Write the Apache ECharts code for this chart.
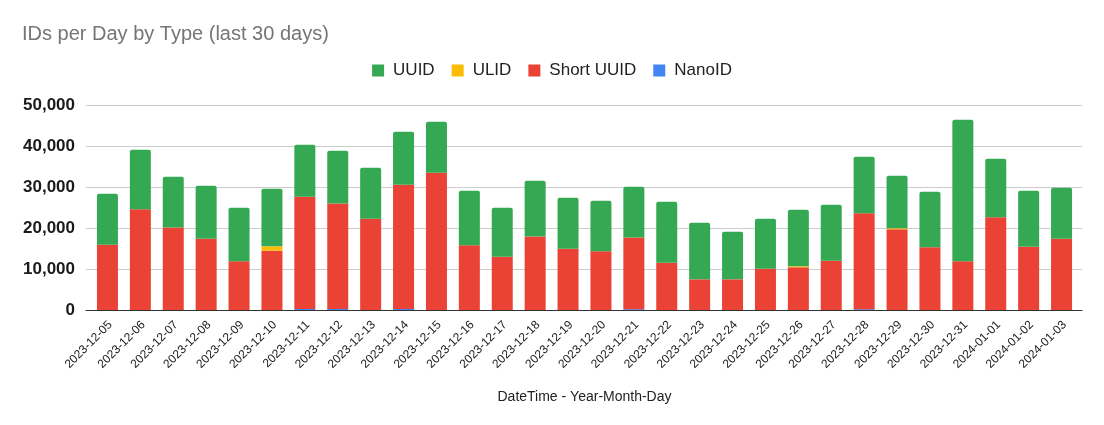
<!DOCTYPE html>
<html>
<head>
<meta charset="utf-8">
<script src="https://cdn.jsdelivr.net/npm/echarts@6/dist/echarts.min.js"></script>
<style>
  html, body { margin: 0; padding: 0; background: #fff; }
  #chart { width: 1104px; height: 425px; }
</style>
</head>
<body>
<div id="chart"></div>
<script>
const categories = [
  '2023-12-05','2023-12-06','2023-12-07','2023-12-08','2023-12-09','2023-12-10',
  '2023-12-11','2023-12-12','2023-12-13','2023-12-14','2023-12-15','2023-12-16',
  '2023-12-17','2023-12-18','2023-12-19','2023-12-20','2023-12-21','2023-12-22',
  '2023-12-23','2023-12-24','2023-12-25','2023-12-26','2023-12-27','2023-12-28',
  '2023-12-29','2023-12-30','2023-12-31','2024-01-01','2024-01-02','2024-01-03'
];
const nanoId = [0,0,0,0,0,0, 250,250,0,250,0,0, 0,0,0,0,200,0, 0,0,0,0,0,200, 0,0,0,0,0,0];
const shortUuid = [15900,24550,20150,17400,11870,14470, 27390,25750,22280,30320,33500,15770,
  13000,17900,14960,14300,17500,11550, 7480,7480,10080,10400,12030,23380,
  19670,15280,11870,22600,15450,17400];
const ulid = [0,0,0,0,0,1060, 0,0,0,0,0,0, 0,0,0,0,0,0, 0,0,0,250,0,0, 250,0,0,0,0,0];
const uuid = [12440,14550,12360,12930,13090,14060, 12690,12840,12440,12930,12430,13340,
  11950,13650,12440,12360,12360,14880, 13820,11630,12200,13820,13660,13820,
  12840,13580,34550,14310,13660,12440];
const yTicks = { min: 0, max: 50000, interval: 10000 };

const chart = echarts.init(document.getElementById('chart'), null, { renderer: 'canvas' });
const font = 'Liberation Sans, Arial, sans-serif';
const fmt = v => v.toLocaleString('en-US');

chart.setOption({
  animation: false,
  backgroundColor: '#ffffff',
  title: {
    text: 'IDs per Day by Type (last 30 days)',
    left: 17, top: 19,
    textStyle: { fontFamily: font, fontSize: 20, fontWeight: 'normal', color: '#757575' }
  },
  legend: {
    data: ['UUID', 'ULID', 'Short UUID', 'NanoID'],
    left: 'center', top: 57,
    icon: 'rect', itemWidth: 12, itemHeight: 12, itemGap: 17,
    textStyle: { fontFamily: font, fontSize: 17, color: '#222', padding: [0, 0, 0, 4] }
  },
  grid: [
    { left: 91, right: 26, top: 105, bottom: 115 },
    { left: 86, right: 22, top: 105, bottom: 115 },
    { left: 94, right: 23, top: 105, bottom: 115 }
  ],
  xAxis: [
    {
      type: 'category', data: categories, gridIndex: 0,
      axisLine: { show: false }, axisTick: { show: false }, axisLabel: { show: false },
      name: 'DateTime - Year-Month-Day', nameLocation: 'middle', nameGap: 80,
      nameTextStyle: { fontFamily: font, fontSize: 14, color: '#222' }
    },
    {
      type: 'value', gridIndex: 1, min: 0, max: 1,
      axisLine: { show: true, lineStyle: { color: '#333', width: 1 } },
      axisTick: { show: false }, axisLabel: { show: false }, splitLine: { show: false }
    },
    {
      type: 'category', data: categories, gridIndex: 2,
      axisLine: { show: false }, axisTick: { show: false },
      axisLabel: { interval: 0, rotate: 45, margin: 13, fontFamily: font, fontSize: 12, color: '#222' }
    }
  ],
  yAxis: [
    {
      type: 'value', gridIndex: 0, min: yTicks.min, max: yTicks.max, interval: yTicks.interval,
      axisLine: { show: false }, axisTick: { show: false }, splitLine: { show: false },
      axisLabel: { margin: 16, formatter: fmt, fontFamily: font, fontSize: 17, fontWeight: 'bold', color: '#1a1a1a' }
    },
    {
      type: 'value', gridIndex: 1, min: yTicks.min, max: yTicks.max, interval: yTicks.interval,
      axisLine: { show: false }, axisTick: { show: false }, axisLabel: { show: false },
      splitLine: { show: true, lineStyle: { color: '#cccccc', width: 1 } }
    },
    {
      type: 'value', gridIndex: 2, min: yTicks.min, max: yTicks.max, interval: yTicks.interval,
      show: false
    }
  ],
  series: [
    { name: 'NanoID', type: 'bar', stack: 'ids', data: nanoId, barWidth: 21,
      itemStyle: { color: '#4285f4' } },
    { name: 'Short UUID', type: 'bar', stack: 'ids', data: shortUuid, barWidth: 21,
      itemStyle: { color: '#ea4335' } },
    { name: 'ULID', type: 'bar', stack: 'ids', data: ulid, barWidth: 21,
      itemStyle: { color: '#fbbc04' } },
    { name: 'UUID', type: 'bar', stack: 'ids', data: uuid, barWidth: 21,
      itemStyle: { color: '#34a853', borderRadius: [2, 2, 0, 0] } }
  ]
});
</script>
</body>
</html>
